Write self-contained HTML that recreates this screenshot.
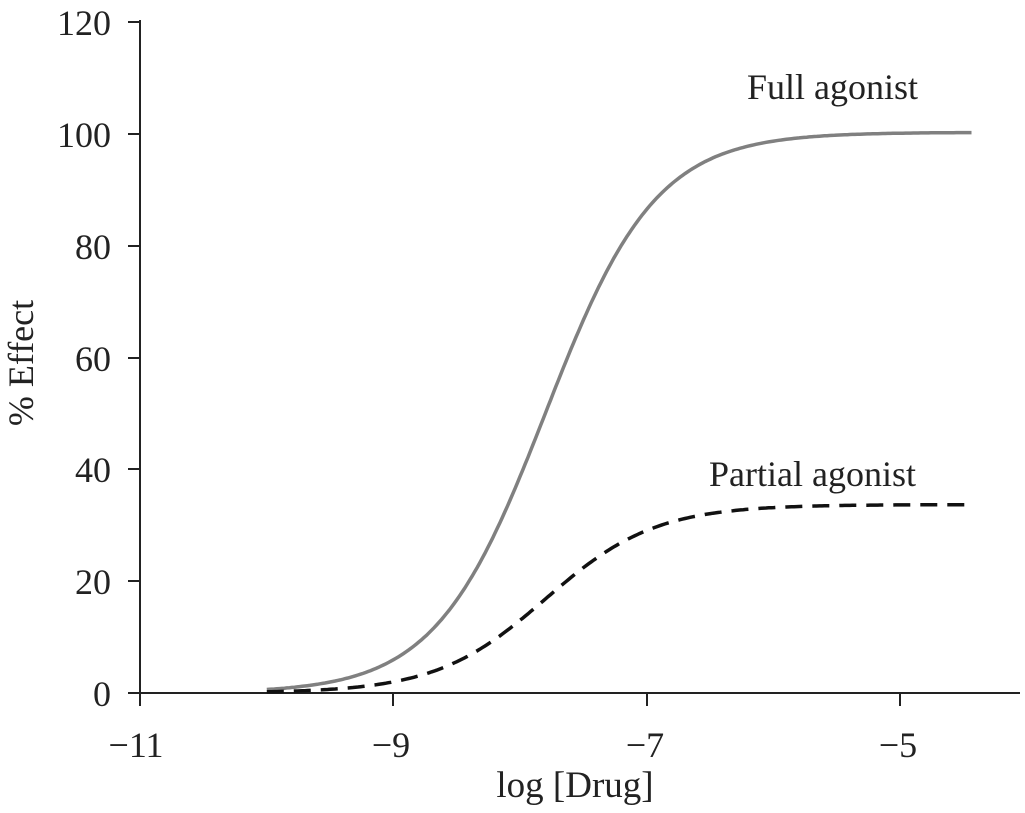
<!DOCTYPE html>
<html><head><meta charset="utf-8"><style>
html,body{margin:0;padding:0;background:#fff;}
svg text{font-family:"Liberation Serif",serif;fill:#222;}
</style></head><body>
<svg id="s" width="1025" height="808" xmlns="http://www.w3.org/2000/svg">
<g stroke="#222" stroke-width="2" fill="none">
<line x1="140" y1="20" x2="140" y2="694"/>
<line x1="139" y1="693" x2="1020" y2="693"/>
<line x1="128" y1="22" x2="140" y2="22"/>
<line x1="128" y1="134" x2="140" y2="134"/>
<line x1="128" y1="246" x2="140" y2="246"/>
<line x1="128" y1="358" x2="140" y2="358"/>
<line x1="128" y1="469" x2="140" y2="469"/>
<line x1="128" y1="581" x2="140" y2="581"/>
<line x1="128" y1="693" x2="140" y2="693"/>
<line x1="140" y1="693" x2="140" y2="706"/>
<line x1="393" y1="693" x2="393" y2="706"/>
<line x1="647" y1="693" x2="647" y2="706"/>
<line x1="900" y1="693" x2="900" y2="706"/>
</g>
<g font-size="36" text-anchor="end">
<text x="111" y="35">120</text>
<text x="111" y="147">100</text>
<text x="111" y="259">80</text>
<text x="111" y="371">60</text>
<text x="111" y="482">40</text>
<text x="111" y="594">20</text>
<text x="111" y="706">0</text>
</g>
<g font-size="36" text-anchor="middle">
<text x="136" y="757">−11</text>
<text x="391" y="757">−9</text>
<text x="645" y="757">−7</text>
<text x="898" y="757">−5</text>
<text x="575" y="797" font-size="37">log [Drug]</text>
</g>
<text font-size="36" transform="translate(33,363) rotate(-90)" text-anchor="middle">% Effect</text>
<text font-size="36" x="747" y="99">Full agonist</text>
<text font-size="36" x="709" y="486">Partial agonist</text>
<path id="full" fill="none" stroke="#808080" stroke-width="3.5"/>
<path id="part" fill="none" stroke="#111" stroke-width="3.5" stroke-dasharray="17,10"/>
</svg>
<script>
function X(l){return 140+(l+11)*126.75;}
function Y(v){return 693-v*5.59;}
function mk(max,ec){var d="";for(var l=-10;l<=-4.44;l+=0.02){var v=max/(1+Math.pow(10,(ec-l)*1.0));d+=(d?"L":"M")+X(l).toFixed(1)+","+Y(v).toFixed(1);}return d;}
document.getElementById("full").setAttribute("d",mk(100.3,-7.8));
document.getElementById("part").setAttribute("d",mk(33.7,-7.8));
</script>
</body></html>
